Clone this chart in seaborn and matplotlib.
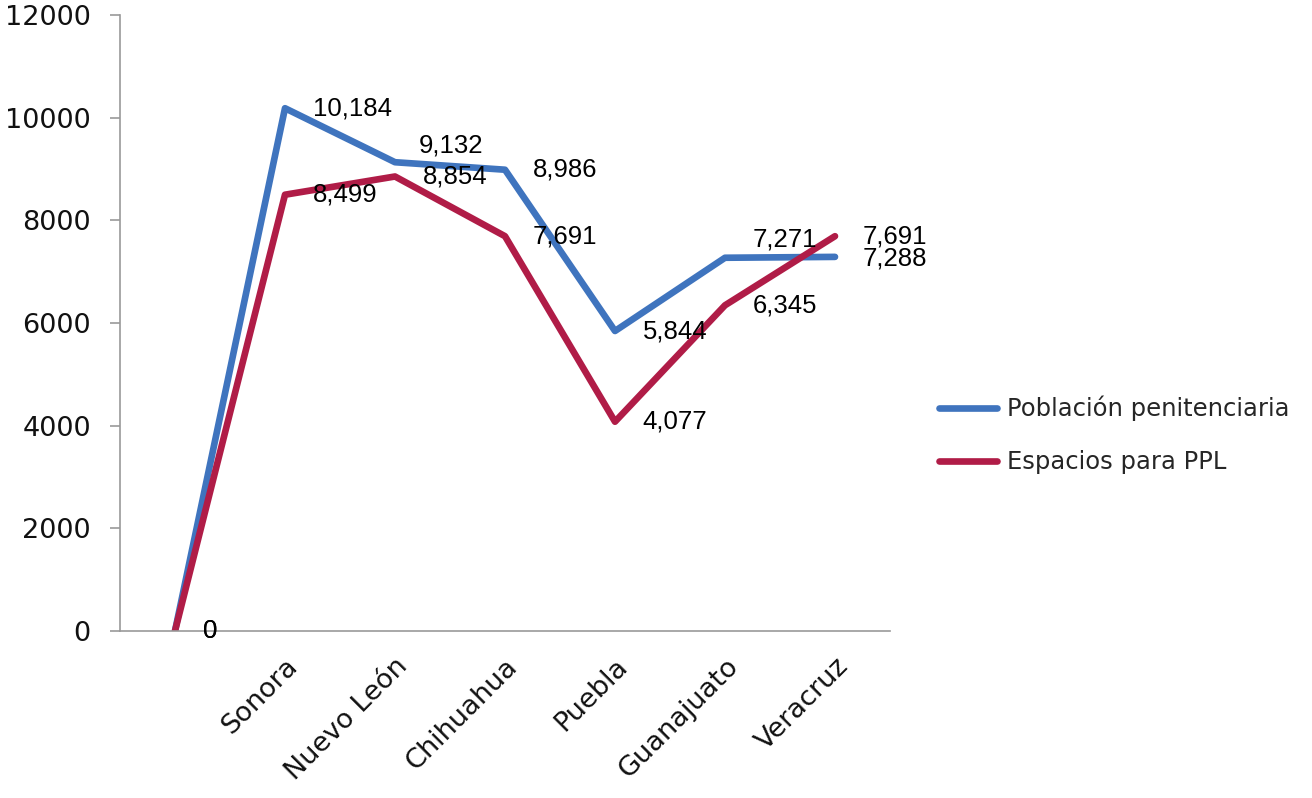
import numpy as np
import pandas as pd
import matplotlib
matplotlib.use("Agg")
import matplotlib.pyplot as plt
import seaborn as sns

# data
states = ["", "Sonora", "Nuevo León", "Chihuahua", "Puebla", "Guanajuato", "Veracruz"]
poblacion = [0, 10184, 9132, 8986, 5844, 7271, 7288]
espacios = [0, 8499, 8854, 7691, 4077, 6345, 7691]
series_names = ["Población penitenciaria", "Espacios para PPL"]
colors = ["#3F74BE", "#B01C47"]

# long format for seaborn
df = pd.DataFrame({
    "pos": list(range(len(states))) * 2,
    "value": poblacion + espacios,
    "serie": [series_names[0]] * len(states) + [series_names[1]] * len(states),
})

sns.set_style("white")
plt.rcParams["font.family"] = ["DejaVu Sans"]

fig = plt.figure(figsize=(13.12, 7.98), dpi=100)
ax = fig.add_axes([120 / 1312, 1 - 631 / 798, 770 / 1312, 616 / 798])

sns.lineplot(data=df, x="pos", y="value", hue="serie", palette=colors,
             linewidth=4.8, ax=ax, legend=False, sort=False)

ax.set_xlim(-0.5, len(states) - 0.5)
ax.set_ylim(0, 12000)
ax.set_yticks(np.arange(0, 12001, 2000))
ax.set_xticks(range(len(states)))
ax.set_xticklabels(states, rotation=45, ha="right", rotation_mode="anchor",
                   fontsize=19.5, color="#111111")
ax.tick_params(axis="y", labelsize=19.5, length=7, width=1.2, color="#999999",
               pad=14, left=True, labelcolor="#111111")
ax.tick_params(axis="x", length=0, pad=16)
ax.set_xlabel("")
ax.set_ylabel("")
for side in ["top", "right"]:
    ax.spines[side].set_visible(False)
for side in ["left", "bottom"]:
    ax.spines[side].set_color("#999999")
    ax.spines[side].set_linewidth(1.2)

# data labels
label_font = dict(fontsize=18.5, family=["Liberation Sans", "DejaVu Sans"], color="#000000",
                  va="center", ha="left")
offsets_pob = [(20, 0), (20, 0), (17, 12), (20, 0), (20, 0), (20, 13), (20, -1)]
offsets_esp = [(20, 0), (20, 0), (20, 0), (20, 0), (20, 0), (20, 0), (20, 0)]
for i, v in enumerate(poblacion):
    ax.annotate(f"{v:,}", (i, v), xytext=offsets_pob[i], textcoords="offset points", **label_font)
for i, v in enumerate(espacios):
    ax.annotate(f"{v:,}", (i, v), xytext=offsets_esp[i], textcoords="offset points", **label_font)

# legend
handles = [plt.Line2D([], [], color=c, linewidth=4.8, solid_capstyle="round") for c in colors]
fig.legend(handles, series_names, loc="center left", bbox_to_anchor=(917 / 1312, 1 - 435 / 798),
           frameon=False, fontsize=17.5, handlelength=2.4, handletextpad=0.4, labelspacing=1.2)

fig.savefig("out.png", dpi=100)
plt.close()
